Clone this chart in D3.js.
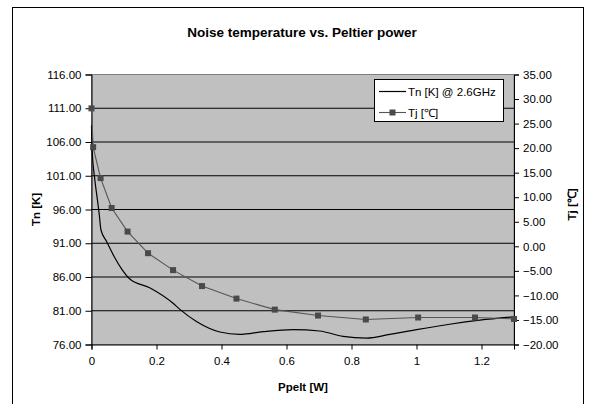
<!DOCTYPE html>
<html>
<head>
<meta charset="utf-8">
<script src="https://cdn.jsdelivr.net/npm/d3@7"></script>
<style>
  html, body { margin: 0; padding: 0; background: #fff; }
  svg { display: block; font-family: "Liberation Sans", Arial, sans-serif; }
</style>
</head>
<body>
<svg id="chart" width="589" height="404"></svg>
<script>
// ---- data ----
const titleText = "Noise temperature vs. Peltier power";
const xLabel = "Ppelt [W]";
const yLeftLabel = "Tn [K]";
const yRightLabel = "Tj [\u2103]";
const seriesNames = ["Tn [K]  @ 2.6GHz", "Tj [\u2103]"];

const tnPower  = [0, 0.002, 0.010, 0.018, 0.024, 0.029, 0.046, 0.070, 0.094, 0.118, 0.179, 0.251, 0.272, 0.323, 0.395, 0.456, 0.528, 0.620, 0.702, 0.774, 0.846, 0.918, 1.000, 1.102, 1.195, 1.300];
const tnValues = [108.5, 104.9, 100.5, 97.5, 95.2, 93.0, 91.3, 89.0, 87.1, 85.7, 84.4, 82.1, 81.2, 79.4, 77.85, 77.5, 77.9, 78.2, 78.0, 77.2, 76.95, 77.5, 78.2, 79.0, 79.6, 80.1];

const tjPower  = [0, 0.005, 0.028, 0.062, 0.111, 0.174, 0.251, 0.340, 0.446, 0.564, 0.697, 0.844, 1.005, 1.180, 1.300];
const tjValues = [28.1, 20.2, 13.9, 7.8, 3.0, -1.4, -4.85, -8.1, -10.65, -12.9, -14.1, -14.9, -14.5, -14.5, -14.8];

const xTicks = [0, 0.2, 0.4, 0.6, 0.8, 1.0, 1.2];
const yLeftTicks = [76, 81, 86, 91, 96, 101, 106, 111, 116];
const yRightTicks = [-20, -15, -10, -5, 0, 5, 10, 15, 20, 25, 30, 35];

// ---- layout ----
const FONT = "'Liberation Sans', Arial, sans-serif";
const svg = d3.select("#chart");
const L = 91.5, R = 514, T = 74.5, B = 344.5;

const x = d3.scaleLinear().domain([0, 1.3]).range([L, R]);
const yL = d3.scaleLinear().domain([76, 116]).range([B, T]);
const yR = d3.scaleLinear().domain([-20, 35]).range([B, T]);

// outer chart border
svg.append("rect").attr("x", 12.5).attr("y", 7.5).attr("width", 571).attr("height", 420)
  .attr("fill", "#fff").attr("stroke", "#000").attr("stroke-width", 1);

// title
svg.append("text").attr("x", 302).attr("y", 37).attr("text-anchor", "middle")
  .attr("font-family", FONT).attr("font-size", 13.5).attr("font-weight", "bold").text(titleText);

// plot area
svg.append("rect").attr("x", L).attr("y", T).attr("width", R - L).attr("height", B - T)
  .attr("fill", "#c0c0c0").attr("stroke", "#808080").attr("stroke-width", 1);

// gridlines (left axis major)
svg.append("g").selectAll("line").data(yLeftTicks.filter(d => d > 76 && d < 116)).join("line")
  .attr("x1", L).attr("x2", R).attr("y1", d => yL(d)).attr("y2", d => yL(d))
  .attr("stroke", "#000").attr("stroke-width", 1);

const fmt2 = d3.format(".2f");

// axes
const axL = svg.append("g").attr("transform", `translate(${L},0)`)
  .call(d3.axisLeft(yL).tickValues(yLeftTicks).tickFormat(fmt2).tickSize(6).tickPadding(4));
const axR = svg.append("g").attr("transform", `translate(${R},0)`)
  .call(d3.axisRight(yR).tickValues(yRightTicks).tickFormat(fmt2).tickSize(5).tickPadding(4));
const axB = svg.append("g").attr("transform", `translate(0,${B})`)
  .call(d3.axisBottom(x).tickValues(xTicks).tickFormat(d => String(+d.toFixed(1))).tickSize(5).tickPadding(7));

[axL, axR, axB].forEach(g => {
  g.select(".domain").attr("stroke", "#000");
  g.selectAll(".tick line").attr("stroke", "#000");
  g.selectAll("text").attr("font-size", 11.5).attr("fill", "#000").attr("font-family", FONT);
});

// axis titles
svg.append("text").attr("transform", `translate(40,${(T + B) / 2}) rotate(-90)`)
  .attr("text-anchor", "middle").attr("font-family", FONT).attr("font-size", 11.5)
  .attr("font-weight", "bold").text(yLeftLabel);
svg.append("text").attr("transform", `translate(576,${(T + B) / 2 - 5}) rotate(-90)`)
  .attr("text-anchor", "middle").attr("font-family", FONT).attr("font-size", 11.5)
  .attr("font-weight", "bold").text(yRightLabel);
svg.append("text").attr("x", 303).attr("y", 391).attr("text-anchor", "middle")
  .attr("font-family", FONT).attr("font-size", 11.5).attr("font-weight", "bold").text(xLabel);

// series
const tnData = tnPower.map((p, i) => [p, tnValues[i]]);
const tjData = tjPower.map((p, i) => [p, tjValues[i]]);

svg.append("path").datum(tnData)
  .attr("fill", "none").attr("stroke", "#000").attr("stroke-width", 1.2)
  .attr("d", d3.line().x(d => x(d[0])).y(d => yL(d[1])).curve(d3.curveMonotoneX));

svg.append("path").datum(tjData)
  .attr("fill", "none").attr("stroke", "#555").attr("stroke-width", 1.1)
  .attr("d", d3.line().x(d => x(d[0])).y(d => yR(d[1])));

svg.append("g").selectAll("rect").data(tjData).join("rect")
  .attr("x", d => x(d[0]) - 3).attr("y", d => yR(d[1]) - 3)
  .attr("width", 6).attr("height", 6).attr("fill", "#4a4a4a");

// legend
const lg = svg.append("g");
lg.append("rect").attr("x", 374.5).attr("y", 79.5).attr("width", 129).attr("height", 42)
  .attr("fill", "#fff").attr("stroke", "#000").attr("stroke-width", 1);
lg.append("line").attr("x1", 379).attr("x2", 406).attr("y1", 91.5).attr("y2", 91.5)
  .attr("stroke", "#000").attr("stroke-width", 1.2);
lg.append("text").attr("x", 408).attr("y", 95.5).attr("font-family", FONT).attr("font-size", 11.5).text(seriesNames[0]);
lg.append("line").attr("x1", 379).attr("x2", 406).attr("y1", 112.5).attr("y2", 112.5)
  .attr("stroke", "#555").attr("stroke-width", 1.1);
lg.append("rect").attr("x", 389.5).attr("y", 109.5).attr("width", 6).attr("height", 6).attr("fill", "#4a4a4a");
lg.append("text").attr("x", 408).attr("y", 116.5).attr("font-family", FONT).attr("font-size", 11.5).text(seriesNames[1]);
</script>
</body>
</html>
